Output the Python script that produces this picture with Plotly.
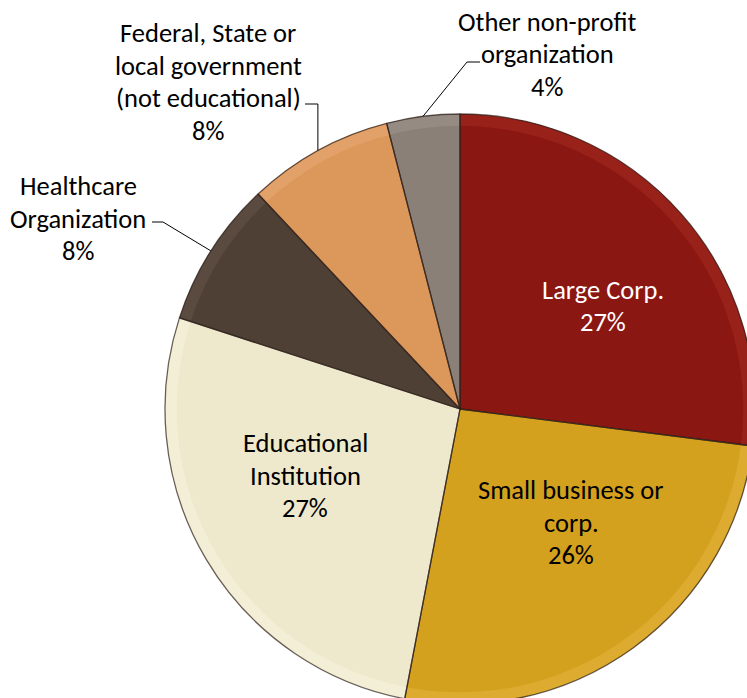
import math
import plotly.graph_objects as go

# ---- data ----
categories = [
    "Large Corp.",
    "Small business or corp.",
    "Educational Institution",
    "Healthcare Organization",
    "Federal, State or local government (not educational)",
    "Other non-profit organization",
]
label_lines = [
    ["Large Corp."],
    ["Small business or", "corp."],
    ["Educational", "Institution"],
    ["Healthcare", "Organization"],
    ["Federal, State or", "local government", "(not educational)"],
    ["Other non-profit", "organization"],
]
shares = [27, 26, 27, 8, 8, 4]

# ---- styles / layout constants ----
colors = ["#8B1713", "#D4A11E", "#EEE8CC", "#4F4036", "#DC975B", "#8B8078"]
rim_colors = ["#982219", "#DCAB30", "#F3EED6", "#5A4A3F", "#E2A168", "#968B83"]
text_colors = ["white", "black", "black", "black", "black", "black"]
W, H = 762, 714                     # figure is slightly larger; window shows 747x698
CX, CY, R = 460, 409, 295           # pie centre / radius in pixels
FONT = "Calibri, Carlito, Lato, sans-serif"
FSIZE = 26.5
LINE_GAP = 32.5
# centre of first text line for each label (pixels)
label_pos = [(603, 290), (571, 490), (305, 443), (78, 186), (208, 33), (547, 22)]
# leader lines for outside labels: index -> (text-side point, elbow point)
leaders = {
    3: ((152, 222), (163, 222)),
    4: ((305, 104), (None, 104)),
    5: ((480, 62), (467, 62)),
}


def px(x, y):
    return x / W, 1 - y / H


dom = dict(x=[(CX - R) / W, (CX + R) / W], y=[1 - (CY + R) / H, 1 - (CY - R) / H])
common = dict(labels=categories, values=shares, sort=False, direction="clockwise",
              rotation=0, textinfo="none", domain=dom, showlegend=False)

fig = go.Figure()
fig.add_trace(go.Pie(
    marker=dict(colors=colors, line=dict(width=0)),
    hoverinfo="label+percent",
    **common,
))
# subtle lighter rim to hint at the bevelled look
fig.add_trace(go.Pie(
    hole=0.96,
    marker=dict(colors=rim_colors, line=dict(width=0)),
    hoverinfo="skip",
    **common,
))
# slice outlines
fig.add_trace(go.Pie(
    marker=dict(colors=["rgba(0,0,0,0)"] * len(shares),
                line=dict(color="rgba(45,32,25,0.7)", width=1.3)),
    hoverinfo="skip",
    **common,
))

total = sum(shares)
annotations = []
shapes = []
cum = 0
for i, v in enumerate(shares):
    mid = (cum + v / 2) / total * 360.0
    cum += v
    lines = label_lines[i] + [f"{round(v / total * 100)}%"]
    x0, y0 = label_pos[i]
    for k, t in enumerate(lines):
        xx, yy = px(x0, y0 + k * LINE_GAP)
        annotations.append(dict(
            x=xx, y=yy, xref="paper", yref="paper", text=t, showarrow=False,
            xanchor="center", yanchor="middle",
            font=dict(family=FONT, size=FSIZE, color=text_colors[i]),
        ))
    if i in leaders:
        rx = CX + R * math.sin(math.radians(mid))
        ry = CY - R * math.cos(math.radians(mid))
        (ax, ay), (ex, ey) = leaders[i]
        if ex is None:
            ex = rx
        pts = [(ax, ay), (ex, ey), (rx, ry)]
        for (p, q) in zip(pts[:-1], pts[1:]):
            a = px(*p)
            b = px(*q)
            shapes.append(dict(type="line", xref="paper", yref="paper",
                               x0=a[0], y0=a[1], x1=b[0], y1=b[1],
                               line=dict(color="black", width=1)))

fig.update_layout(
    width=W, height=H,
    margin=dict(l=0, r=0, t=0, b=0),
    paper_bgcolor="white", plot_bgcolor="white",
    showlegend=False,
    annotations=annotations,
    shapes=shapes,
)

fig.write_html(
    "out.html",
    config={"displayModeBar": False},
    post_script="document.body.style.margin='0px';document.body.style.overflow='hidden';",
)
